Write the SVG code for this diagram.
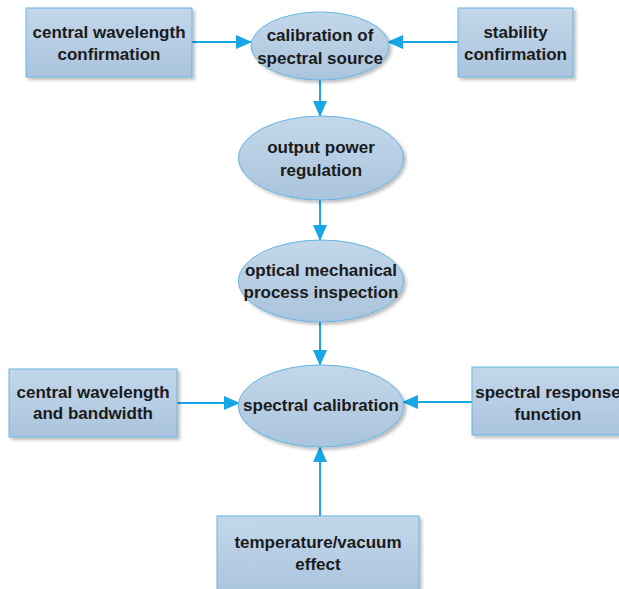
<svg xmlns="http://www.w3.org/2000/svg" width="619" height="589" viewBox="0 0 619 589">
<defs>
<linearGradient id="g" x1="0" y1="0" x2="0" y2="1">
<stop offset="0" stop-color="#c3d7ea"/>
<stop offset="1" stop-color="#aac4dd"/>
</linearGradient>
<filter id="sh" x="-10%" y="-10%" width="125%" height="130%">
<feDropShadow dx="2.5" dy="2.5" stdDeviation="1.5" flood-color="#000" flood-opacity="0.25"/>
</filter>
<marker id="ah" markerUnits="userSpaceOnUse" markerWidth="16" markerHeight="14" refX="15" refY="7" orient="auto">
<path d="M0,0 L16,7 L0,14 Z" fill="#17a6e6"/>
</marker>
</defs>
<style>
.n{fill:url(#g);stroke:#63b6e2;stroke-width:1;filter:url(#sh)}
.t{font-family:"Liberation Sans",Arial,sans-serif;font-weight:bold;font-size:17px;fill:#1b1b1b;text-anchor:middle}
.c{stroke:#17a6e6;stroke-width:2;fill:none;marker-end:url(#ah)}
</style>
<rect width="619" height="589" fill="#fff"/>
<g id="connectors">
<line class="c" x1="192" y1="42" x2="251" y2="42"/>
<line class="c" x1="458" y1="42" x2="388" y2="42"/>
<line class="c" x1="320" y1="80" x2="320" y2="116"/>
<line class="c" x1="320" y1="200" x2="320" y2="240"/>
<line class="c" x1="320" y1="322" x2="320" y2="365"/>
<line class="c" x1="177" y1="403" x2="239" y2="403"/>
<line class="c" x1="472" y1="402" x2="403" y2="402"/>
<line class="c" x1="320" y1="516" x2="320" y2="447"/>
</g>
<g id="central-wavelength-confirmation">
<rect class="n" x="26" y="8" width="166" height="69"/>
<text class="t" x="109" y="38">central wavelength</text>
<text class="t" x="109" y="60">confirmation</text>
</g>
<g id="calibration-of-spectral-source">
<ellipse class="n" cx="320" cy="46" rx="69" ry="34"/>
<text class="t" x="320" y="41">calibration of</text>
<text class="t" x="320" y="64">spectral source</text>
</g>
<g id="stability-confirmation">
<rect class="n" x="458" y="8" width="115" height="69"/>
<text class="t" x="515.5" y="38">stability</text>
<text class="t" x="515.5" y="60">confirmation</text>
</g>
<g id="output-power-regulation">
<ellipse class="n" cx="321" cy="158" rx="82.5" ry="42"/>
<text class="t" x="321" y="153">output power</text>
<text class="t" x="321" y="176">regulation</text>
</g>
<g id="optical-mechanical-process-inspection">
<ellipse class="n" cx="321" cy="281" rx="82.5" ry="41"/>
<text class="t" x="321" y="276">optical mechanical</text>
<text class="t" x="321" y="298">process inspection</text>
</g>
<g id="central-wavelength-and-bandwidth">
<rect class="n" x="9" y="369" width="168" height="68"/>
<text class="t" x="93" y="398">central wavelength</text>
<text class="t" x="93" y="419">and bandwidth</text>
</g>
<g id="spectral-calibration">
<ellipse class="n" cx="321" cy="406" rx="82.5" ry="41"/>
<text class="t" x="321" y="411">spectral calibration</text>
</g>
<g id="spectral-response-function">
<rect class="n" x="472" y="367" width="152" height="68"/>
<text class="t" x="548" y="398">spectral response</text>
<text class="t" x="548" y="420">function</text>
</g>
<g id="temperature-vacuum-effect">
<rect class="n" x="217" y="516" width="202" height="80"/>
<text class="t" x="318" y="548">temperature/vacuum</text>
<text class="t" x="318" y="570">effect</text>
</g>
</svg>
